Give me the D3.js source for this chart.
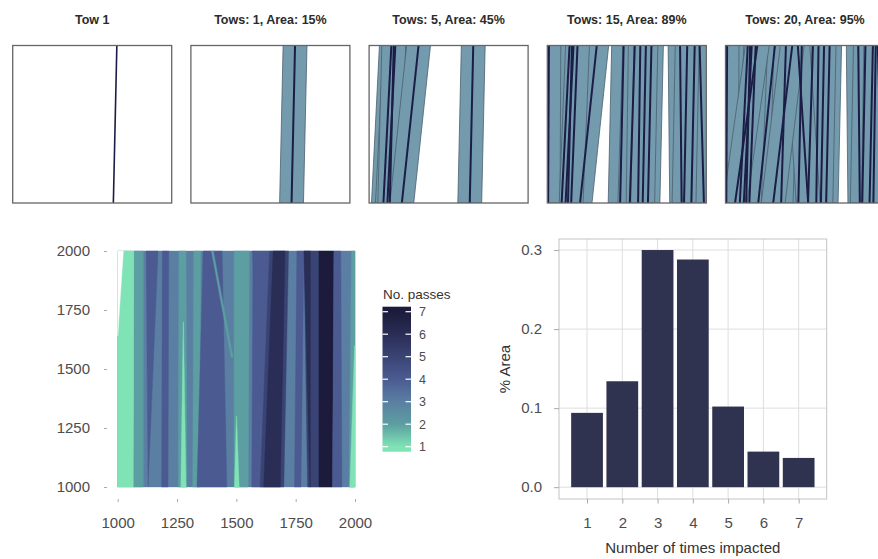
<!DOCTYPE html>
<html>
<head>
<meta charset="utf-8">
<script src="https://cdn.jsdelivr.net/npm/d3@7"></script>
<style>
  body { margin: 0; background: #fff; }
  svg { font-family: "Liberation Sans", Arial, sans-serif; }
</style>
</head>
<body>
<svg id="fig" width="878" height="559"></svg>
<script>
// ---- data ----
// tow centre lines (field units 0-1000), bottom and top of the field
const towBottom = [633, 90, 115, 130, 206, 5, 150, 458, 519, 571, 600, 845, 906, 985, 860, 350, 520, 60, 930, 300];
const towTop    = [655, 140, 165, 155, 311, 10, 190, 480, 550, 585, 620, 835, 927, 958, 880, 380, 455, 200, 945, 420];
const towWidth = 150;

const panelTitles = ["Tow 1", "Tows: 1, Area: 15%", "Tows: 5, Area: 45%", "Tows: 15, Area: 89%", "Tows: 20, Area: 95%"];
const panelTows = [1, 1, 5, 15, 20];
const panelBands = [false, true, true, true, true];

// pass-count map: [passes, yLow, yHigh, xLowLeft, xLowRight, xHighLeft, xHighRight]
const heatStrips = [
  [3, 1000, 2000, 1000, 2000, 1000, 2000],
  [1, 1000, 2000, 1000, 1068, 1000, 1070],
  [0, 1640, 2000, 1000, 1000, 1000, 1024],
  [2, 1000, 2000, 1068, 1108, 1070, 1108],
  [4, 1000, 2000, 1128, 1128, 1120, 1170],
  [4, 1000, 2000, 1185, 1212, 1188, 1215],
  [2, 1000, 2000, 1255, 1292, 1258, 1288],
  [1, 1000, 1700, 1266, 1288, 1276, 1277],
  [2, 1000, 2000, 1316, 1345, 1320, 1350],
  [4, 1000, 2000, 1334, 1460, 1360, 1440],
  [2, 1550, 2000, 1478, 1486, 1395, 1403],
  [2, 1000, 2000, 1490, 1550, 1490, 1555],
  [1, 1000, 1300, 1492, 1512, 1500, 1501],
  [4, 1000, 2000, 1612, 1614, 1568, 1640],
  [4, 1000, 2000, 1565, 1610, 1570, 1572],
  [5, 1000, 2000, 1600, 1700, 1640, 1720],
  [6, 1000, 2000, 1615, 1685, 1655, 1705],
  [4, 1000, 2000, 1745, 1772, 1755, 1785],
  [5, 1000, 2000, 1800, 1848, 1785, 1848],
  [6, 1000, 2000, 1810, 1812, 1785, 1812],
  [7, 1000, 2000, 1848, 1905, 1848, 1911],
  [4, 1000, 2000, 1905, 1945, 1911, 1940],
  [2, 1000, 2000, 1975, 2000, 1985, 2000],
  [1, 1000, 1600, 1978, 2000, 1998, 2000]
];
const heatTicks = [1000, 1250, 1500, 1750, 2000];

const passLevels = [1, 2, 3, 4, 5, 6, 7];
const passColors = ["#7fe3b5", "#5c9ea1", "#5a7fa2", "#4b5b92", "#3a4474", "#2a2d56", "#1c1b3b"];

const timesImpacted = [1, 2, 3, 4, 5, 6, 7];
const areaShare = [0.094, 0.134, 0.300, 0.288, 0.102, 0.045, 0.037];
const areaTicks = [0.0, 0.1, 0.2, 0.3];

// ---- setup ----
const svg = d3.select("#fig");
const passColor = d3.scaleLinear().domain(passLevels).range(passColors);
const fillFor = c => c === 0 ? "#ffffff" : passColor(c);

// ---- top row: tow panels ----
const panelW = 159, panelTop = 45.5, panelBottom = 203;
const panelLeft = d3.range(5).map(i => 12.7 + i * 178.2);

panelTitles.forEach((title, i) => {
  const x = d3.scaleLinear().domain([0, 1000]).range([panelLeft[i], panelLeft[i] + panelW]);
  const y = d3.scaleLinear().domain([0, 1]).range([panelBottom, panelTop]);
  const g = svg.append("g");

  g.append("clipPath").attr("id", "clip" + i)
    .append("rect")
    .attr("x", x(0)).attr("y", panelTop)
    .attr("width", panelW).attr("height", panelBottom - panelTop);

  const tows = d3.range(panelTows[i]).map(k => ({ b: towBottom[k], t: towTop[k] }));
  const inner = g.append("g").attr("clip-path", "url(#clip" + i + ")");

  if (panelBands[i]) {
    inner.selectAll("path.band")
      .data(tows)
      .enter().append("path")
      .attr("class", "band")
      .attr("d", d => d3.line()([
        [x(d.b - towWidth / 2), y(0)], [x(d.b + towWidth / 2), y(0)],
        [x(d.t + towWidth / 2), y(1)], [x(d.t - towWidth / 2), y(1)]
      ]) + "Z")
      .attr("fill", "#739bad")
      .attr("stroke", "#4a606e")
      .attr("stroke-width", 0.8);
  }

  inner.selectAll("line.tow")
    .data(tows)
    .enter().append("line")
    .attr("class", "tow")
    .attr("x1", d => x(d.b)).attr("y1", y(0))
    .attr("x2", d => x(d.t)).attr("y2", y(1))
    .attr("stroke", "#1b1d47")
    .attr("stroke-width", panelBands[i] ? 2 : 1.6);

  g.append("rect")
    .attr("x", x(0)).attr("y", panelTop)
    .attr("width", panelW).attr("height", panelBottom - panelTop)
    .attr("fill", "none")
    .attr("stroke", "#666")
    .attr("stroke-width", 1.3);

  g.append("text")
    .attr("x", x(500)).attr("y", 24)
    .attr("text-anchor", "middle")
    .attr("font-size", 12.5)
    .attr("font-weight", "bold")
    .attr("fill", "#2b2b2b")
    .text(title);
});

// ---- bottom left: pass-count map ----
const hx = d3.scaleLinear().domain([1000, 2000]).range([117.7, 355]);
const hy = d3.scaleLinear().domain([1000, 2000]).range([487, 251]);

svg.append("g").selectAll("path")
  .data(heatStrips)
  .enter().append("path")
  .attr("d", s => d3.line()([
    [hx(s[3]), hy(s[1])], [hx(s[4]), hy(s[1])],
    [hx(s[6]), hy(s[2])], [hx(s[5]), hy(s[2])]
  ]) + "Z")
  .attr("fill", s => fillFor(s[0]))
  .attr("stroke", s => fillFor(s[0]))
  .attr("stroke-width", 0.4);

function styleAxis(g, size) {
  g.select(".domain").remove();
  g.selectAll(".tick line").attr("stroke", "#aaa");
  g.selectAll(".tick text").attr("fill", "#4d4d4d").attr("font-size", size);
}

svg.append("g")
  .attr("transform", "translate(107,0)")
  .call(d3.axisLeft(hy).tickValues(heatTicks).tickSize(3).tickPadding(14).tickFormat(d3.format("d")))
  .call(g => styleAxis(g, 15));

svg.append("g")
  .attr("transform", "translate(0,499)")
  .call(d3.axisBottom(hx).tickValues(heatTicks).tickSize(3).tickPadding(15).tickFormat(d3.format("d")))
  .call(g => styleAxis(g, 15));

// legend
const ly = d3.scaleLinear().domain([1, 7]).range([446.7, 311.7]);
const grad = svg.append("defs").append("linearGradient")
  .attr("id", "passGrad").attr("x1", 0).attr("x2", 0).attr("y1", 1).attr("y2", 0);
grad.selectAll("stop")
  .data(passLevels)
  .enter().append("stop")
  .attr("offset", d => (ly(1) + 5 - ly(d)) / 145)
  .attr("stop-color", d => passColor(d));

svg.append("text")
  .attr("x", 383).attr("y", 299)
  .attr("font-size", 13.5)
  .attr("fill", "#333")
  .text("No. passes");

svg.append("rect")
  .attr("x", 382.5).attr("y", 306.7)
  .attr("width", 28.5).attr("height", 145)
  .attr("fill", "url(#passGrad)");

const lg = svg.append("g");
passLevels.forEach(v => {
  lg.append("line").attr("x1", 382.5).attr("x2", 388).attr("y1", ly(v)).attr("y2", ly(v))
    .attr("stroke", "#fff").attr("stroke-width", 1.2);
  lg.append("line").attr("x1", 405.5).attr("x2", 411).attr("y1", ly(v)).attr("y2", ly(v))
    .attr("stroke", "#fff").attr("stroke-width", 1.2);
  lg.append("text").attr("x", 419).attr("y", ly(v)).attr("dy", "0.36em")
    .attr("font-size", 12.5).attr("fill", "#4d4d4d").text(v);
});

// ---- bottom right: bar chart ----
const bx = d3.scaleLinear().domain([0.205, 7.795]).range([559, 826.7]);
const by = d3.scaleLinear().domain([-0.01495, 0.31395]).range([499, 239]);

const grid = svg.append("g");
grid.selectAll("line.gy")
  .data(areaTicks)
  .enter().append("line")
  .attr("x1", bx.range()[0]).attr("x2", bx.range()[1])
  .attr("y1", d => by(d)).attr("y2", d => by(d))
  .attr("stroke", "#dedede").attr("stroke-width", 1);
grid.selectAll("line.gx")
  .data(timesImpacted)
  .enter().append("line")
  .attr("x1", d => bx(d)).attr("x2", d => bx(d))
  .attr("y1", by.range()[0]).attr("y2", by.range()[1])
  .attr("stroke", "#dedede").attr("stroke-width", 1);

svg.append("g").selectAll("rect")
  .data(timesImpacted)
  .enter().append("rect")
  .attr("x", d => bx(d - 0.45))
  .attr("width", bx(0.9) - bx(0))
  .attr("y", (d, i) => by(areaShare[i]))
  .attr("height", (d, i) => by(0) - by(areaShare[i]))
  .attr("fill", "#2f3350");

svg.append("rect")
  .attr("x", 559).attr("y", 239)
  .attr("width", 826.7 - 559).attr("height", 499 - 239)
  .attr("fill", "none").attr("stroke", "#c4c4c4").attr("stroke-width", 1);

svg.append("g")
  .attr("transform", "translate(559,0)")
  .call(d3.axisLeft(by).tickValues(areaTicks).tickSize(5).tickPadding(12).tickFormat(d3.format(".1f")))
  .call(g => styleAxis(g, 15));

svg.append("g")
  .attr("transform", "translate(0,499)")
  .call(d3.axisBottom(bx).tickValues(timesImpacted).tickSize(4.5).tickPadding(14).tickFormat(d3.format("d")))
  .call(g => styleAxis(g, 15));

svg.append("text")
  .attr("x", 692.8).attr("y", 553)
  .attr("text-anchor", "middle")
  .attr("font-size", 15)
  .attr("fill", "#333")
  .text("Number of times impacted");

svg.append("text")
  .attr("transform", "translate(510,369) rotate(-90)")
  .attr("text-anchor", "middle")
  .attr("font-size", 15)
  .attr("fill", "#333")
  .text("% Area");
</script>
</body>
</html>
